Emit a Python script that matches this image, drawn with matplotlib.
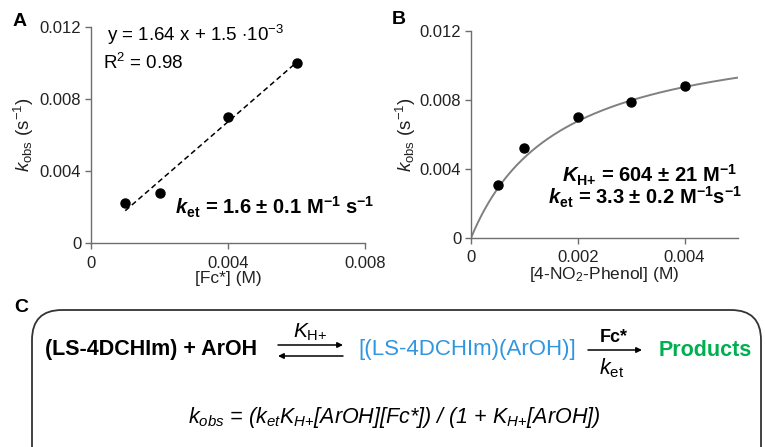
import numpy as np
import matplotlib
matplotlib.use("Agg")
import matplotlib.pyplot as plt
from matplotlib.patches import FancyBboxPatch

plt.rcParams['font.family'] = ['Liberation Sans', 'DejaVu Sans']
plt.rcParams['mathtext.fontset'] = 'custom'
plt.rcParams['mathtext.rm'] = 'Liberation Sans'
plt.rcParams['mathtext.it'] = 'Liberation Sans:italic'
plt.rcParams['mathtext.bf'] = 'Liberation Sans:bold'
plt.rcParams['mathtext.bfit'] = 'Liberation Sans:bold:italic'
plt.rcParams['mathtext.sf'] = 'Liberation Sans'

# ---- data -------------------------------------------------------------
# Panel A: k_obs vs [Fc*]
fc_conc = [0.001, 0.002, 0.004, 0.006]
kobs_a = [0.0022, 0.0028, 0.0070, 0.0100]
# Panel B: k_obs vs [4-NO2-Phenol]
phenol_conc = [0.0005, 0.001, 0.002, 0.003, 0.004]
kobs_b = [0.0031, 0.0052, 0.0070, 0.0079, 0.0088]
# saturation fit (K_H+ = 604 M^-1, plateau from k_et*[Fc*])
K_H = 604.0
k_max = 0.01238

yticks = [0, 0.004, 0.008, 0.012]
ytick_labels = ['0', '0.004', '0.008', '0.012']
xticks_a = [0, 0.004, 0.008]
xtick_labels_a = ['0', '0.004', '0.008']
xticks_b = [0, 0.002, 0.004]
xtick_labels_b = ['0', '0.002', '0.004']

W, H = 765, 447
fig = plt.figure(figsize=(W / 100, H / 100), dpi=100)


def px_axes(x0, x1, ytop, ybot):
    return fig.add_axes([x0 / W, 1 - ybot / H, (x1 - x0) / W, (ybot - ytop) / H])


def style(ax):
    for s in ['top', 'right']:
        ax.spines[s].set_visible(False)
    for s in ['left', 'bottom']:
        ax.spines[s].set_color('#6e6e6e')
        ax.spines[s].set_linewidth(1.0)
    ax.tick_params(direction='out', length=4, width=1.0, color='#6e6e6e',
                   labelsize=12, labelcolor='#222222', pad=3)
    ax.tick_params(axis='x', pad=5)
    ax.set_yticks(yticks, ytick_labels)
    ax.set_ylim(0, 0.012)
    ax.set_ylabel(r'$k_{\mathrm{obs}}$ (s$^{-1}$)', fontsize=13.5, color='#222222')


# ---- panel A ----------------------------------------------------------
axA = px_axes(91, 365, 27, 243)
style(axA)
axA.set_xlim(0, 0.008)
axA.set_xticks(xticks_a, xtick_labels_a)
axA.set_xlabel('[Fc*] (M)', fontsize=12.5, color='#222222', labelpad=0)
axA.yaxis.set_label_coords(-0.2, 0.5)

coef = np.polyfit(fc_conc, kobs_a, 1)
xfit = np.array([min(fc_conc), max(fc_conc)])
axA.plot(xfit, np.polyval(coef, xfit), color='black', lw=1.1, dashes=(3.5, 2.2))
axA.plot(fc_conc, kobs_a, 'o', color='black', ms=6.5, clip_on=False)

axA.text(0.058, 0.965, r'y = 1.64 x + 1.5 $\cdot$10$^{-3}$', transform=axA.transAxes,
         fontsize=13.5, va='center', ha='left')
axA.text(0.045, 0.835, r'R$^{2}$ = 0.98', transform=axA.transAxes,
         fontsize=13.5, va='center', ha='left')
axA.text(0.305, 0.13, r'$\mathbfit{k}_{\mathbf{et}}$ = 1.6 ± 0.1 M$^{\mathbf{-1}}$ s$^{\mathbf{-1}}$',
         transform=axA.transAxes, fontsize=14.5, fontweight='bold', va='baseline', ha='left')

# ---- panel B ----------------------------------------------------------
axB = px_axes(471, 738, 31, 238)
style(axB)
axB.set_xlim(0, 0.005)
axB.set_xticks(xticks_b, xtick_labels_b)
axB.set_xlabel('[4-NO$_2$-Phenol] (M)', fontsize=12.5, color='#222222', labelpad=0)
axB.yaxis.set_label_coords(-0.2, 0.5)

xc = np.linspace(0, 0.005, 300)
axB.plot(xc, k_max * K_H * xc / (1 + K_H * xc), color='#808080', lw=1.4)
axB.plot(phenol_conc, kobs_b, 'o', color='black', ms=6.5, clip_on=False)

axB.text(0.995, 0.27, r'$\mathbfit{K}_{\mathbf{H{+}}}$ = 604 ± 21 M$^{\mathbf{-1}}$',
         transform=axB.transAxes, fontsize=14.5, fontweight='bold', va='baseline', ha='right')
axB.text(1.015, 0.16, r'$\mathbfit{k}_{\mathbf{et}}$ = 3.3 ± 0.2 M$^{\mathbf{-1}}$s$^{\mathbf{-1}}$',
         transform=axB.transAxes, fontsize=14.5, fontweight='bold', va='baseline', ha='right')

# ---- overlay (panel letters and scheme C) -----------------------------
ov = fig.add_axes([0, 0, 1, 1], zorder=-1)
ov.set_xlim(0, W)
ov.set_ylim(H, 0)
ov.axis('off')

ov.text(20, 22, 'A', fontsize=14, fontweight='bold', ha='center', va='center')
ov.text(399, 20, 'B', fontsize=14, fontweight='bold', ha='center', va='center')
ov.text(21, 308, 'C', fontsize=14, fontweight='bold', ha='center', va='center')

box = FancyBboxPatch((32, 310), 729, 170, boxstyle='round,pad=0,rounding_size=30',
                     fc='none', ec='#333333', lw=1.3, clip_on=False)
ov.add_patch(box)

ov.text(45, 350, '(LS-4DCHIm) + ArOH', fontsize=15.5, fontweight='bold', ha='left', va='center')
ov.text(310, 332, r'$K_{\mathrm{H{+}}}$', fontsize=15, ha='center', va='center')
ov.annotate('', xy=(343, 345), xytext=(278, 345),
            arrowprops=dict(arrowstyle='-|>', lw=1.1, color='black', mutation_scale=8,
                            shrinkA=0, shrinkB=0))
ov.annotate('', xy=(278, 356), xytext=(343, 356),
            arrowprops=dict(arrowstyle='-|>', lw=1.1, color='black', mutation_scale=8,
                            shrinkA=0, shrinkB=0))
ov.text(358, 350, '[(LS-4DCHIm)(ArOH)]', fontsize=16, color='#2f96e0', ha='left', va='center')
ov.annotate('', xy=(642, 350), xytext=(588, 350),
            arrowprops=dict(arrowstyle='-|>', lw=1.1, color='black', mutation_scale=8,
                            shrinkA=0, shrinkB=0))
ov.text(614, 337, 'Fc*', fontsize=13, fontweight='bold', ha='center', va='center')
ov.text(612, 368, r'$k_{\mathrm{et}}$', fontsize=15.5, ha='center', va='center')
ov.text(659, 350, 'Products', fontsize=15.5, fontweight='bold', color='#00b050',
        ha='left', va='center')

ov.text(394, 417, r'$k_{obs}$ = ($k_{et}K_{H{+}}$[ArOH][Fc*]) / (1 + $K_{H{+}}$[ArOH])',
        fontsize=15.5, style='italic', ha='center', va='center')

fig.savefig('out.png', dpi=100)
